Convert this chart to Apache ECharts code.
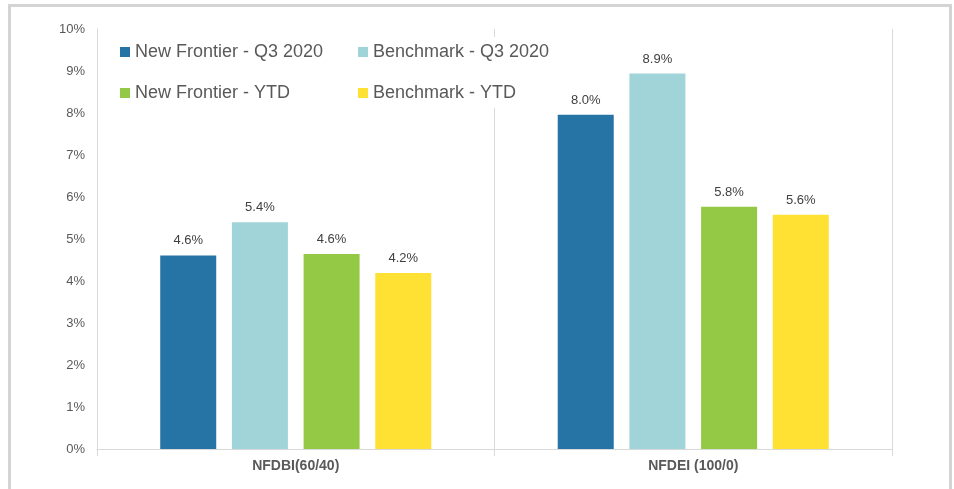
<!DOCTYPE html>
<html>
<head>
<meta charset="utf-8">
<script src="https://cdn.jsdelivr.net/npm/echarts@6/dist/echarts.min.js"></script>
<style>
  html, body { margin: 0; padding: 0; background: #fff; }
  #chart { width: 954px; height: 489px; }
</style>
</head>
<body>
<div id="chart"></div>
<script>
// categories and series values (percent)
const categories = ['NFDBI(60/40)', 'NFDEI (100/0)']
const nfQ3 = [4.61, 7.96]
const bmQ3 = [5.40, 8.94]
const nfYtd = [4.64, 5.77]
const bmYtd = [4.19, 5.58]

const names = ['New Frontier - Q3 2020', 'Benchmark - Q3 2020', 'New Frontier - YTD', 'Benchmark - YTD']
const colors = ['#2673a6', '#a1d4d8', '#94c945', '#fee132']
const values = [nfQ3, bmQ3, nfYtd, bmYtd]

const chart = echarts.init(document.getElementById('chart'))

const gray = '#d9d9d9'
const textColor = '#595959'
const font = 'Liberation Sans, Arial, sans-serif'

const series = names.map((name, i) => ({
  name: name,
  type: 'bar',
  data: values[i],
  barWidth: 56,
  barGap: '28%',
  itemStyle: { color: colors[i] },
  label: {
    show: true,
    position: 'top',
    distance: 8,
    fontSize: 13,
    fontFamily: font,
    color: '#404040',
    formatter: p => p.value.toFixed(1) + '%'
  }
}))

const legendBase = {
  orient: 'vertical',
  top: 37,
  padding: 5,
  itemWidth: 10,
  itemHeight: 10,
  itemGap: 21,
  icon: 'rect',
  backgroundColor: '#fff',
  textStyle: { fontSize: 18, color: textColor, fontFamily: font, lineHeight: 20 }
}

chart.setOption({
  animation: false,
  graphic: [{
    type: 'rect',
    shape: { x: 9.5, y: 5.5, width: 941, height: 500 },
    style: { fill: 'none', stroke: '#d4d4d4', lineWidth: 3 },
    z: -1
  }],
  legend: [
    Object.assign({}, legendBase, { left: 115, data: [names[0], names[2]] }),
    Object.assign({}, legendBase, { left: 353, data: [names[1], names[3]] })
  ],
  grid: { left: 97, right: 62, top: 29, bottom: 40 },
  xAxis: {
    type: 'category',
    data: categories,
    axisLine: { lineStyle: { color: gray } },
    axisTick: { show: true, length: 7, lineStyle: { color: gray } },
    splitLine: { show: true, lineStyle: { color: gray } },
    axisLabel: { fontSize: 14, fontWeight: 'bold', color: textColor, fontFamily: font, margin: 10 }
  },
  yAxis: {
    type: 'value',
    min: 0,
    max: 10,
    interval: 1,
    axisLine: { show: true, lineStyle: { color: gray } },
    axisTick: { show: false },
    splitLine: { show: false },
    axisLabel: { formatter: '{value}%', fontSize: 13, color: textColor, fontFamily: font, margin: 12 }
  },
  series: series
})
</script>
</body>
</html>
